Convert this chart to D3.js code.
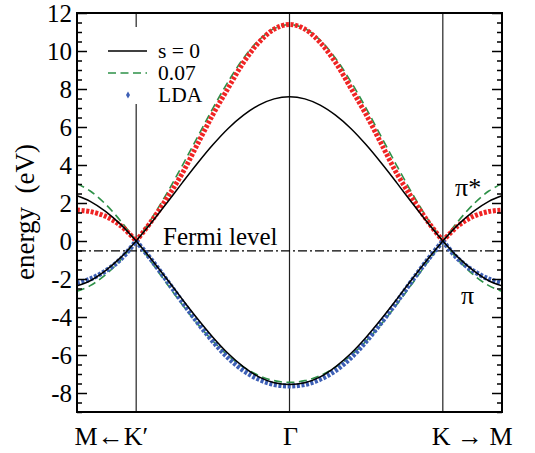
<!DOCTYPE html>
<html><head><meta charset="utf-8">
<script src="https://cdn.jsdelivr.net/npm/d3@7"></script>
<style>
html,body{margin:0;padding:0;background:#fff;}
svg text{font-family:'Liberation Serif','Times New Roman',Tinos !important;}
</style></head>
<body><svg id="c" width="535" height="453" font-family="Liberation Serif"></svg>
<script>
// k-path positions: K'=0, Gamma=1, K=2; edges are partway to M
const kPos = [-0.386,-0.3,-0.2,-0.1,0,0.1,0.2,0.3,0.4,0.5,0.6,0.7,0.8,0.9,1.0,1.1,1.2,1.3,1.4,1.5,1.6,1.7,1.8,1.9,2.0,2.1,2.2,2.3,2.386];
const symLabels = [{k:0,t:"M\u2190K\u2032",a:"end",dx:12},{k:1,t:"\u0393",a:"middle",dx:1},{k:2,t:"K \u2192 M",a:"start",dx:-11}];
const yMajor = [-8,-6,-4,-2,0,2,4,6,8,10,12];
const fermiLevel = -0.52;

const s0Up  = [2.38,2.09,1.56,0.86,0,0.97,2.00,3.06,4.09,5.06,5.92,6.62,7.15,7.48,7.59,7.48,7.15,6.62,5.92,5.06,4.09,3.06,2.00,0.97,0,0.86,1.56,2.09,2.38];
const s0Dn  = [-2.36,-2.09,-1.56,-0.86,0,-0.97,-2.00,-3.06,-4.09,-5.06,-5.92,-6.62,-7.15,-7.46,-7.55,-7.46,-7.15,-6.62,-5.92,-5.06,-4.09,-3.06,-2.00,-0.97,0,-0.86,-1.56,-2.09,-2.36];
const s07Up = [3.02,2.63,1.94,1.04,0,1.18,2.51,3.96,5.47,6.98,8.39,9.62,10.57,11.18,11.39,11.18,10.57,9.62,8.39,6.98,5.47,3.96,2.51,1.18,0,1.04,1.94,2.63,3.02];
const s07Dn = [-2.65,-2.35,-1.78,-0.99,0,-1.12,-2.25,-3.34,-4.36,-5.26,-6.03,-6.64,-7.08,-7.35,-7.44,-7.35,-7.08,-6.64,-6.03,-5.26,-4.36,-3.34,-2.25,-1.12,0,-0.99,-1.78,-2.35,-2.65];
const ldaUp = [1.63,1.55,1.30,0.80,0,1.05,2.25,3.55,5.10,6.65,8.05,9.40,10.45,11.15,11.40,11.15,10.45,9.40,8.05,6.65,5.10,3.55,2.25,1.05,0,0.80,1.30,1.55,1.63];
const ldaDn = [-2.22,-2.00,-1.58,-0.95,0,-1.00,-2.08,-3.20,-4.28,-5.28,-6.15,-6.82,-7.28,-7.55,-7.63,-7.55,-7.28,-6.82,-6.15,-5.28,-4.28,-3.20,-2.08,-1.00,0,-0.95,-1.58,-2.00,-2.22];

const svg = d3.select("#c");
const L=77,R=502,T=13,B=412;
const x = d3.scaleLinear().domain([-0.386,2.386]).range([L,R]);
const y = d3.scaleLinear().domain([-9,12]).range([B,T]);

// vertical symmetry lines
svg.selectAll("line.sym").data(symLabels).enter().append("line")
  .attr("x1",d=>x(d.k)).attr("x2",d=>x(d.k)).attr("y1",T).attr("y2",B)
  .attr("stroke","#222").attr("stroke-width",1.2);

// Fermi level
svg.append("line").attr("x1",L).attr("x2",R).attr("y1",y(fermiLevel)).attr("y2",y(fermiLevel))
  .attr("stroke","#000").attr("stroke-width",1.3).attr("stroke-dasharray","9,3,2,3");

const segs = [[0,4],[4,24],[24,28]];
const line = d3.line().x(d=>x(d[0])).y(d=>y(d[1])).curve(d3.curveCatmullRom.alpha(0.5));
function draw(vals, style){
  segs.forEach(([a,b])=>{
    const pts = d3.range(a,b+1).map(i=>[kPos[i],vals[i]]);
    const p = svg.append("path").attr("d",line(pts)).attr("fill","none");
    Object.entries(style).forEach(([k,v])=>p.attr(k,v));
  });
}
const greenSt = {"stroke":"#2e9148","stroke-width":1.6,"stroke-dasharray":"8,4.5"};
const blackSt = {"stroke":"#000","stroke-width":1.5};
draw(s07Up, greenSt); draw(s07Dn, greenSt);
draw(ldaUp, {"stroke":"#f02424","stroke-width":5,"stroke-dasharray":"3,1.6"});
draw(ldaDn, {"stroke":"#3d5fb5","stroke-width":5,"stroke-dasharray":"3,1.6"});
draw(s0Up, blackSt); draw(s0Dn, blackSt);

// axes
const yMinor = d3.range(-9,12.01,0.5).filter(v=>!yMajor.includes(v));
const gl = svg.append("g").attr("transform",`translate(${L},0)`)
  .call(d3.axisLeft(y).tickValues(yMajor).tickSize(-10).tickPadding(5).tickFormat(d=>String(d)));
gl.select(".domain").remove();
gl.attr("font-family","Liberation Serif").attr("font-size",25);
gl.selectAll("line").attr("stroke-width",1.5);
const glm = svg.append("g").attr("transform",`translate(${L},0)`)
  .call(d3.axisLeft(y).tickValues(yMinor).tickSize(-5).tickFormat(""));
glm.select(".domain").remove(); glm.selectAll("line").attr("stroke-width",1.5);
const gr = svg.append("g").attr("transform",`translate(${R},0)`)
  .call(d3.axisRight(y).tickValues(yMajor).tickSize(-10).tickFormat(""));
gr.select(".domain").remove(); gr.selectAll("line").attr("stroke-width",1.5);
const grm = svg.append("g").attr("transform",`translate(${R},0)`)
  .call(d3.axisRight(y).tickValues(yMinor).tickSize(-5).tickFormat(""));
grm.select(".domain").remove(); grm.selectAll("line").attr("stroke-width",1.5);

// frame
svg.append("rect").attr("x",L).attr("y",T).attr("width",R-L).attr("height",B-T)
  .attr("fill","none").attr("stroke","#000").attr("stroke-width",2);

// x labels
svg.selectAll("text.sym").data(symLabels).enter().append("text")
  .attr("x",d=>x(d.k)+d.dx).attr("y",445).attr("text-anchor",d=>d.a)
  .attr("font-size",26).text(d=>d.t);

// y label
svg.append("text").attr("transform","translate(34,212) rotate(-90)")
  .attr("text-anchor","middle").attr("font-size",27).attr("xml:space","preserve")
  .text("energy  (eV)");

// Fermi label, band labels
svg.append("text").attr("x",163).attr("y",245).attr("font-size",25).text("Fermi level");
svg.append("text").attr("x",455).attr("y",196).attr("font-size",26).text("\u03c0*");
svg.append("text").attr("x",461).attr("y",304).attr("font-size",26).text("\u03c0");

// legend
const lg = svg.append("g");
lg.append("rect").attr("x",100).attr("y",27).attr("width",112).attr("height",77).attr("fill","#fff");
const legendItems = [{t:"s = 0",type:"solid"},{t:"0.07",type:"dash"},{t:"LDA",type:"dot"}];
legendItems.forEach((d,i)=>{
  const yy = 51 + i*22;
  if(d.type==="solid") lg.append("line").attr("x1",108).attr("x2",147).attr("y1",yy).attr("y2",yy).attr("stroke","#000").attr("stroke-width",1.5);
  if(d.type==="dash") lg.append("line").attr("x1",108).attr("x2",147).attr("y1",yy).attr("y2",yy).attr("stroke","#2e9148").attr("stroke-width",1.6).attr("stroke-dasharray","8,4.5");
  if(d.type==="dot") lg.append("path").attr("d",d3.symbol(d3.symbolDiamond,14)()).attr("transform",`translate(128,${yy})`).attr("fill","#3d5fb5");
  lg.append("text").attr("x",158).attr("y",yy+7).attr("font-size",21.5).text(d.t);
});

svg.selectAll("text").attr("font-family","Liberation Serif").attr("fill","#000");
</script></body></html>
